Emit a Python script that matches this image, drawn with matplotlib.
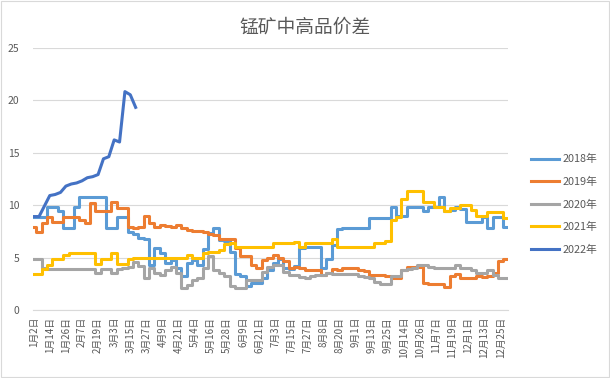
import matplotlib
matplotlib.use("Agg")
import matplotlib.pyplot as plt
import numpy as np
from matplotlib.patches import Rectangle

plt.rcParams['font.family'] = ['Noto Sans CJK SC', 'DejaVu Sans']

title = "锰矿中高品价差"
tick_labels = ['1月2日', '1月14日', '1月26日', '2月7日', '2月19日', '3月3日', '3月15日',
               '3月27日', '4月9日', '4月21日', '5月4日', '5月16日', '5月28日', '6月9日',
               '6月21日', '7月3日', '7月15日', '7月27日', '8月8日', '8月20日', '9月1日',
               '9月13日', '9月25日', '10月14日', '10月26日', '11月7日', '11月19日',
               '12月1日', '12月13日', '12月25日']
n_categories = 354      # trading days on the category axis
label_every = 12        # one label every 12 categories
sample_every = 4        # values below are read every 4 categories

s2018 = [8.9, 8.9, 8.9, 9.8, 9.8, 9.4, 7.8, 7.8, 9.8, 10.8, 10.8, 10.8, 10.8, 10.8, 7.8, 7.8,
         8.9, 8.9, 7.4, 7.2, 6.9, 6.8, 4.3, 5.9, 5.4, 4.5, 4.8, 4.0, 3.2, 4.5, 4.8, 4.3,
         5.8, 7.3, 7.8, 6.7, 6.6, 5.5, 3.4, 3.2, 2.3, 2.6, 2.6, 3.0, 3.8, 4.5, 4.9, 4.0,
         3.9, 4.2, 5.9, 6.0, 6.0, 6.0, 4.0, 4.9, 6.2, 7.7, 7.8, 7.8, 7.8, 7.8, 7.8, 8.8,
         8.8, 8.8, 8.8, 9.8, 9.0, 9.0, 9.8, 9.8, 9.8, 9.4, 9.8, 9.8, 10.8, 9.4, 9.5, 9.8,
         9.6, 8.4, 8.4, 8.4, 8.9, 7.8, 8.9, 8.9, 7.9]
s2019 = [7.9, 7.4, 8.3, 8.9, 8.4, 8.4, 8.9, 8.9, 8.9, 8.6, 8.3, 10.2, 9.4, 9.4, 9.4, 10.3,
         9.7, 9.7, 7.9, 7.8, 7.9, 9.0, 8.3, 7.9, 8.1, 8.0, 7.9, 8.1, 7.8, 7.6, 7.55, 7.55,
         7.4, 7.2, 7.1, 6.8, 6.8, 6.8, 5.9, 5.1, 5.1, 4.3, 4.0, 4.8, 5.0, 5.2, 5.0, 4.7,
         4.0, 4.1, 4.0, 3.8, 3.8, 3.8, 3.3, 3.5, 3.9, 3.8, 4.0, 4.0, 4.0, 3.8, 3.7, 3.3,
         3.3, 3.3, 3.2, 3.0, 3.0, 3.8, 4.1, 4.1, 4.1, 2.6, 2.5, 2.5, 2.5, 2.2, 3.2, 3.4,
         3.0, 3.0, 3.0, 3.2, 3.1, 3.2, 3.5, 4.7, 4.9]
s2020 = [4.9, 4.9, 4.0, 3.9, 3.9, 3.9, 3.9, 3.9, 3.9, 3.9, 3.9, 3.9, 3.5, 3.9, 3.9, 3.5,
         3.9, 4.0, 4.1, 4.6, 4.2, 3.0, 4.0, 3.5, 3.3, 3.8, 4.1, 3.5, 2.1, 2.4, 2.9, 3.0,
         4.0, 5.1, 3.8, 3.5, 3.2, 2.3, 2.1, 2.1, 2.9, 2.9, 2.9, 3.6, 4.1, 4.3, 4.3, 3.6,
         3.3, 3.3, 3.1, 3.0, 3.2, 3.3, 3.3, 3.5, 3.4, 3.4, 3.4, 3.4, 3.4, 3.2, 3.1, 3.0,
         2.7, 2.5, 2.5, 3.2, 3.2, 3.8, 3.9, 4.0, 4.3, 4.3, 4.1, 4.0, 4.0, 4.0, 4.0, 4.3,
         4.0, 4.0, 3.8, 3.5, 3.5, 3.8, 3.3, 3.0, 3.0]
s2021 = [3.4, 3.4, 3.9, 4.3, 4.9, 4.9, 5.2, 5.4, 5.4, 5.4, 5.4, 5.4, 4.4, 4.9, 4.9, 5.4,
         4.4, 4.4, 4.9, 5.0, 5.0, 5.0, 5.0, 5.0, 5.0, 5.0, 5.0, 5.0, 5.0, 5.2, 5.0, 5.0,
         5.4, 5.5, 5.5, 5.7, 6.3, 6.35, 6.0, 6.0, 6.0, 6.0, 6.0, 6.0, 6.0, 6.4, 6.4, 6.4,
         6.4, 6.5, 6.0, 6.4, 6.4, 6.4, 6.4, 6.4, 6.8, 6.0, 6.0, 6.0, 6.0, 6.0, 6.0, 6.0,
         6.4, 6.4, 6.6, 8.6, 8.9, 10.6, 11.3, 11.3, 11.3, 10.3, 10.3, 9.8, 9.8, 9.4, 9.7,
         9.7, 10.0, 10.0, 9.5, 9.0, 8.95, 9.3, 9.3, 9.3, 8.8]
s2022 = [8.9, 8.9, 9.9, 10.9, 11.0, 11.2, 11.8, 12.0, 12.1, 12.3, 12.6, 12.7, 12.9, 14.4,
         14.6, 16.2, 16.0, 20.8, 20.5, 19.3]

series = [("2018年", s2018, "#5B9BD5", "steps-mid"),
          ("2019年", s2019, "#ED7D31", "steps-mid"),
          ("2020年", s2020, "#A5A5A5", "steps-mid"),
          ("2021年", s2021, "#FFC000", "steps-mid"),
          ("2022年", s2022, "#4472C4", "default")]

fig = plt.figure(figsize=(6.10, 3.78), dpi=100)
fig.patch.set_facecolor("white")
fig.add_artist(Rectangle((0.002, 0.003), 0.996, 0.994, transform=fig.transFigure,
                         fill=False, edgecolor="#D9D9D9", linewidth=0.8))

ax = fig.add_axes([0.0541, 0.1799, 0.7787, 0.6944])
handles = []
for name, vals, color, ds in series:
    xs = np.arange(len(vals)) * sample_every
    h, = ax.plot(xs, vals, color=color, lw=2.2, label=name, drawstyle=ds,
                 solid_joinstyle="round")
    handles.append(h)

ax.set_xlim(-0.5, n_categories - 0.5)
ax.set_ylim(0, 25)
ax.set_yticks(np.arange(0, 26, 5))
ax.set_xticks(np.arange(len(tick_labels)) * label_every)
ax.set_xticklabels(tick_labels, rotation=90, va="top", ha="center")
ax.tick_params(axis="x", length=0, pad=5, labelsize=7, labelcolor="#595959")
ax.tick_params(axis="y", length=0, pad=10, labelsize=7.5, labelcolor="#595959")
ax.grid(axis="y", color="#D9D9D9", lw=0.8)
ax.set_axisbelow(True)
for sp in ["top", "right", "left"]:
    ax.spines[sp].set_visible(False)
ax.spines["bottom"].set_color("#D9D9D9")
ax.spines["bottom"].set_linewidth(0.8)

fig.text(0.5, 0.928, title, ha="center", va="center", fontsize=13.5, color="#595959")

fig.legend(handles=handles, loc="center left", bbox_to_anchor=(0.855, 0.459),
           frameon=False, fontsize=7.8, labelcolor="#595959", handlelength=2.6,
           handletextpad=0.3, labelspacing=1.15)

fig.savefig("out.png", dpi=100)
